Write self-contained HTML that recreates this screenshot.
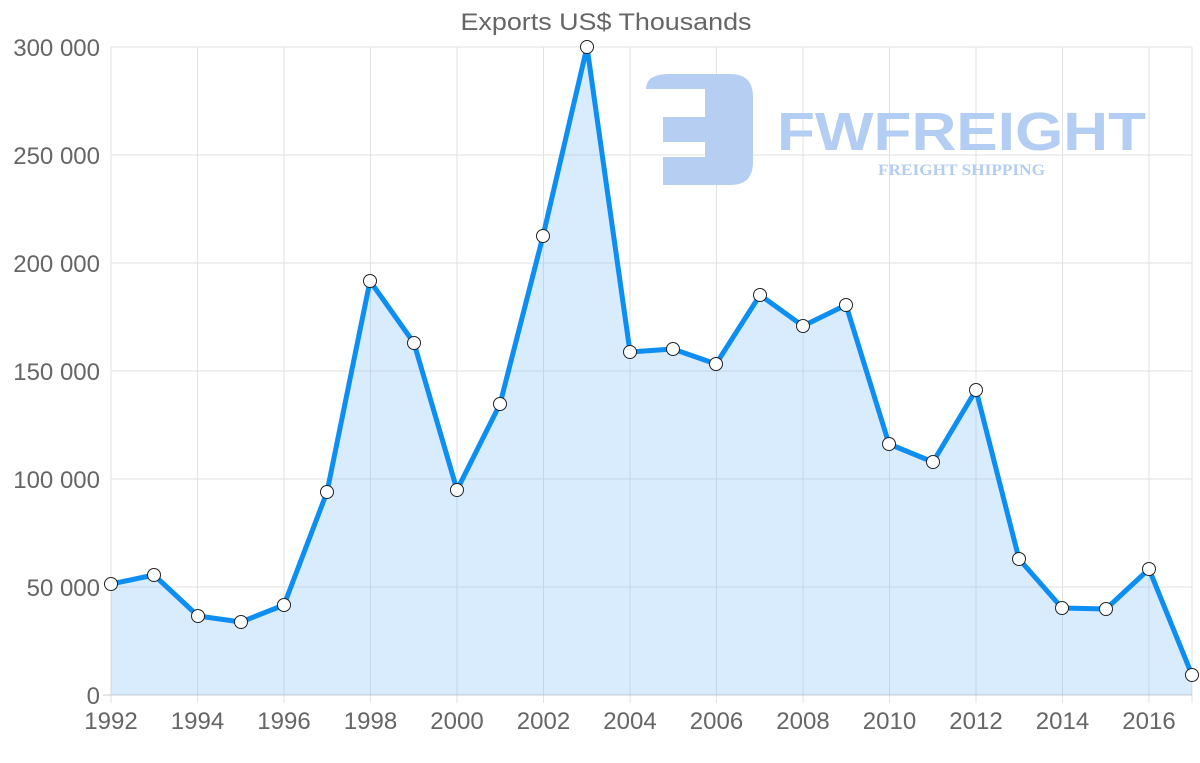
<!DOCTYPE html>
<html><head><meta charset="utf-8"><style>
body{margin:0;background:#fff;}
svg{display:block;font-family:"Liberation Sans",sans-serif;}
</style></head><body>
<svg width="1200" height="763" viewBox="0 0 1200 763">
<g stroke="#e2e2e2" stroke-width="1">
<line x1="111" y1="47" x2="1192" y2="47"/><line x1="111" y1="155" x2="1192" y2="155"/>
<line x1="111" y1="263" x2="1192" y2="263"/><line x1="111" y1="371" x2="1192" y2="371"/>
<line x1="111" y1="479" x2="1192" y2="479"/><line x1="111" y1="587" x2="1192" y2="587"/>
<line x1="111" y1="47" x2="111" y2="703"/><line x1="197.5" y1="47" x2="197.5" y2="703"/>
<line x1="284" y1="47" x2="284" y2="703"/><line x1="370.5" y1="47" x2="370.5" y2="703"/>
<line x1="457" y1="47" x2="457" y2="703"/><line x1="543.5" y1="47" x2="543.5" y2="703"/>
<line x1="630" y1="47" x2="630" y2="703"/><line x1="716.5" y1="47" x2="716.5" y2="703"/>
<line x1="803" y1="47" x2="803" y2="703"/><line x1="889.5" y1="47" x2="889.5" y2="703"/>
<line x1="976" y1="47" x2="976" y2="703"/><line x1="1062.5" y1="47" x2="1062.5" y2="703"/>
<line x1="1149" y1="47" x2="1149" y2="703"/><line x1="1192" y1="47" x2="1192" y2="703"/>
</g>
<line x1="103" y1="695" x2="1192" y2="695" stroke="#ccc"/>
<g fill="#b3cdf3">
<path d="M669 74 H730 Q753 74 753 97 V162 Q753 185 730 185 H663 V157 H705 V142 H663 V117 H705 V89 H646 Q646 74 669 74 Z" fill="#b6cef2"/>
<text x="777" y="150" font-size="54" font-weight="bold" textLength="369" lengthAdjust="spacingAndGlyphs">FWFREIGHT</text>
<text x="878" y="175" font-family="Liberation Serif,serif" font-size="16" font-weight="bold" textLength="167" lengthAdjust="spacingAndGlyphs">FREIGHT SHIPPING</text>
</g>
<text x="606" y="30" text-anchor="middle" font-size="24" fill="#666" textLength="291" lengthAdjust="spacingAndGlyphs">Exports US$ Thousands</text>
<g font-size="24" fill="#666" text-anchor="end">
<text x="100" y="56">300 000</text><text x="100" y="164">250 000</text>
<text x="100" y="272">200 000</text><text x="100" y="380">150 000</text>
<text x="100" y="488">100 000</text><text x="100" y="596">50 000</text>
<text x="100" y="704">0</text>
</g>
<g font-size="24" fill="#666" text-anchor="middle">
<text x="111" y="729">1992</text><text x="197.5" y="729">1994</text><text x="284" y="729">1996</text>
<text x="370.5" y="729">1998</text><text x="457" y="729">2000</text><text x="543.5" y="729">2002</text>
<text x="630" y="729">2004</text><text x="716.5" y="729">2006</text><text x="803" y="729">2008</text>
<text x="889.5" y="729">2010</text><text x="976" y="729">2012</text><text x="1062.5" y="729">2014</text>
<text x="1149" y="729">2016</text>
</g>
<path d="M111 584 L154 575 L198 616 L241 622 L284 605 L327 492 L370 281 L414 343 L457 490 L500 404 L543 236 L587 47 L630 352 L673 349 L716 364 L760 295 L803 326 L846 305 L889 444 L933 462 L976 390 L1019 559 L1062 608 L1106 609 L1149 569 L1192 675 L1192 695 L111 695 Z" fill="rgba(100,180,250,0.25)"/>
<path d="M111 584 L154 575 L198 616 L241 622 L284 605 L327 492 L370 281 L414 343 L457 490 L500 404 L543 236 L587 47 L630 352 L673 349 L716 364 L760 295 L803 326 L846 305 L889 444 L933 462 L976 390 L1019 559 L1062 608 L1106 609 L1149 569 L1192 675" fill="none" stroke="#0c8ef2" stroke-width="5" stroke-linejoin="round"/>
<g fill="#fff" stroke="#222" stroke-width="1">
<circle cx="111" cy="584" r="6.5"/><circle cx="154" cy="575" r="6.5"/><circle cx="198" cy="616" r="6.5"/>
<circle cx="241" cy="622" r="6.5"/><circle cx="284" cy="605" r="6.5"/><circle cx="327" cy="492" r="6.5"/>
<circle cx="370" cy="281" r="6.5"/><circle cx="414" cy="343" r="6.5"/><circle cx="457" cy="490" r="6.5"/>
<circle cx="500" cy="404" r="6.5"/><circle cx="543" cy="236" r="6.5"/><circle cx="587" cy="47" r="6.5"/>
<circle cx="630" cy="352" r="6.5"/><circle cx="673" cy="349" r="6.5"/><circle cx="716" cy="364" r="6.5"/>
<circle cx="760" cy="295" r="6.5"/><circle cx="803" cy="326" r="6.5"/><circle cx="846" cy="305" r="6.5"/>
<circle cx="889" cy="444" r="6.5"/><circle cx="933" cy="462" r="6.5"/><circle cx="976" cy="390" r="6.5"/>
<circle cx="1019" cy="559" r="6.5"/><circle cx="1062" cy="608" r="6.5"/><circle cx="1106" cy="609" r="6.5"/>
<circle cx="1149" cy="569" r="6.5"/><circle cx="1192" cy="675" r="6.5"/>
</g>
</svg>
</body></html>
